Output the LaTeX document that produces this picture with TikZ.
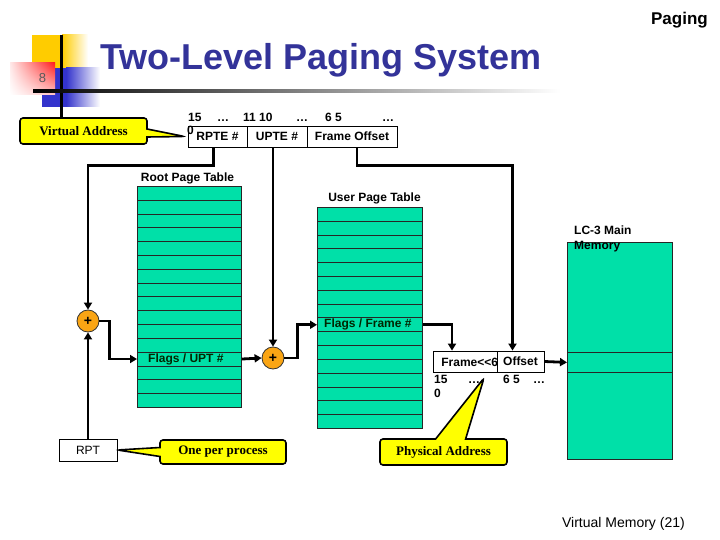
\documentclass[tikz,border=0pt]{standalone}
\usepackage{fontspec}
\setmainfont{Liberation Sans}
\newfontfamily\callfont{Liberation Serif}
\usetikzlibrary{arrows.meta,positioning,shapes.callouts,shadings}
\definecolor{titleblue}{RGB}{51,51,153}
\definecolor{tabgreen}{RGB}{0,224,168}
\definecolor{addorange}{RGB}{250,165,20}
\definecolor{logoyellow}{RGB}{255,204,0}
\definecolor{logored}{RGB}{255,30,30}
\definecolor{logoblue}{RGB}{51,51,204}
\definecolor{calyellow}{RGB}{255,255,0}
\tikzset{
  wire/.style={line width=2.8pt, -{Triangle[length=7pt,width=8pt]}},
  rowbox/.style={draw=black!85, fill=tabgreen, line width=0.8pt, minimum width=104pt,
                 minimum height=13.81pt, inner sep=0pt},
  fieldbox/.style={draw, fill=white, line width=0.8pt, minimum height=21pt, inner sep=0pt,
                   font=\fontsize{12}{14}\selectfont\bfseries},
  bitlab/.style={font=\fontsize{12}{14}\selectfont\bfseries, inner sep=0pt},
  tablab/.style={font=\fontsize{12}{15}\selectfont\bfseries, inner sep=0pt},
  rowlab/.style={font=\fontsize{12}{14}\selectfont\bfseries, text=black!85!green, inner sep=0pt},
  adder/.style={circle, draw=black!80, fill=addorange, line width=0.8pt, minimum size=22pt,
                inner sep=0pt, font=\fontsize{14}{14}\selectfont\bfseries},
  callbox/.style={rectangle callout, draw=black, fill=calyellow, line width=1.6pt,
                  rounded corners=3pt, inner sep=0pt, font=\callfont\bfseries\fontsize{13}{15}\selectfont},
}
\begin{document}
\begin{tikzpicture}[x=1pt,y=-1pt]
  \fill[white] (0,0) rectangle (720,540);
  \useasboundingbox (0,0) rectangle (720,540);
  % logo
  \fill[logoyellow] (32,35) rectangle (62,68);
  \shade[left color=logoyellow, right color=white] (62,35) rectangle (88,68);
  \fill[logoblue] (42,68) rectangle (66,107);
  \shade[left color=logoblue, right color=white] (66,68) rectangle (100,107);
  \shade[upper left=logored!10, upper right=logored, lower left=white, lower right=logored!25]
    (10,63) rectangle (55,95);
  \fill[black] (59.5,35) rectangle (62.5,118);
  \shade[left color=black, right color=white] (33,89.5) rectangle (560,92.5);
  \node[font=\fontsize{13}{14}\selectfont, text=black!65] (slideno) at (42.5,78) {8};
  \node[font=\fontsize{36}{40}\selectfont\bfseries, text=titleblue, anchor=base west, inner sep=0pt]
    (title) at (100,70) {Two-Level Paging System};
  \node[font=\fontsize{17}{20}\selectfont\bfseries, anchor=base east, inner sep=0pt] (topic) at (708,25) {Paging};
  \node[font=\fontsize{14}{16}\selectfont, anchor=base east, inner sep=0pt] (footer) at (685,527) {Virtual Memory (21)};

  % virtual address
  \node[fieldbox, minimum width=59pt] (rpte) at (217.5,136.5) {RPTE \#};
  \node[fieldbox, minimum width=60pt] (upte) at (277,136.5) {UPTE \#};
  \node[fieldbox, minimum width=90pt] (foff) at (352,136.5) {Frame Offset};
  \foreach \x/\t [count=\k] in {188/15, 217/\dots, 243/11 10, 296/\dots, 325/6 5, 382/\dots}
    \node[bitlab, anchor=base west] (vbit\k) at (\x,122) {\t};
  \node[bitlab, anchor=base west] (vzero) at (187,135) {0};

  % tables
  \node[tablab, anchor=base] (rtlab) at (187.5,182) {Root Page Table};
  \foreach \i in {1,...,16}
    \node[rowbox, anchor=north west] (rt\i) at (137,{186+13.81*(\i-1)}) {};
  \node[rowlab, anchor=west] (uptlab) at ([xshift=11pt]rt13.west) {Flags / UPT \#};
  \node[tablab, anchor=base] (utlab) at (374.5,202) {User Page Table};
  \foreach \i in {1,...,16}
    \node[rowbox, minimum width=105pt, anchor=north west] (ut\i) at (317,{207+13.81*(\i-1)}) {};
  \node[rowlab, anchor=west] (framelab) at ([xshift=7pt]ut9.west) {Flags / Frame \#};

  % main memory
  \node[draw=black!85, fill=tabgreen, line width=0.8pt, minimum width=105pt, minimum height=217pt,
        inner sep=0pt, anchor=north west] (mem) at (567,242) {};
  \node[rowbox, minimum width=105pt, minimum height=20pt, anchor=north west] (memrow) at (567,352) {};
  \node[tablab, anchor=north west, align=left] (memlab) at (574,226) {LC-3 Main\\Memory};

  \node[adder] (plus1) at (88,321) {+};
  \node[adder] (plus2) at (273,358) {+};

  % physical address
  \node[fieldbox, minimum width=64pt] (frm) at (465,361.5) {};
  \node[fieldbox, draw=none, fill=none, anchor=west] (frmlab) at (441,362) {Frame{<}{<}6};
  \node[fieldbox, minimum width=47pt] (off) at (520.5,361.5) {Offset};
  \foreach \x/\t [count=\k] in {434/15, 468/\dots, 503/6 5, 533/\dots}
    \node[bitlab, anchor=base west] (pbit\k) at (\x,383) {\t};
  \node[bitlab, anchor=base west] (pzero) at (434,397) {0};

  \node[draw, fill=white, line width=0.8pt, minimum width=58pt, minimum height=22pt,
        font=\fontsize{12}{14}\selectfont] (rpt) at (88,450) {RPT};

  \draw[wire] ([xshift=-4pt]rpte.south) -- ++(0,18) -| (plus1.north);
  \draw[wire] (rpt.north) -- (plus1.south);
  \draw[wire] (plus1.east) -- ++(10,0) |- (rt13.west);
  \draw[wire] (rt13.east) -- (plus2.west);
  \draw[wire] (plus2.north |- upte.south) -- (plus2.north);
  \draw[wire] (plus2.east) -- ++(13,0) |- (ut9.west);
  \draw[wire] (ut9.east) -| ([xshift=-13pt]frm.north);
  \draw[wire] ([xshift=5pt]foff.south) -- ++(0,18) -| ([xshift=-8pt]off.north);
  \draw[wire] (off.east) -- (memrow.west);

  % callouts
  \node[callbox, minimum width=127pt, minimum height=26pt, callout pointer width=8pt,
        callout absolute pointer={([xshift=-3pt]rpte.west)}] (vacall) at (83.5,131) {Virtual Address};
  \node[callbox, minimum width=126pt, minimum height=24pt, callout pointer width=9pt,
        callout absolute pointer={(rpt.east)}] (oppcall) at (223,452) {One per process};
  \coordinate (patip) at (484,378);
  \node[callbox, minimum width=127pt, minimum height=26pt, callout pointer width=30pt,
        callout absolute pointer={(patip)}] (pacall) at (443.5,452) {Physical Address};
\end{tikzpicture}
\end{document}
